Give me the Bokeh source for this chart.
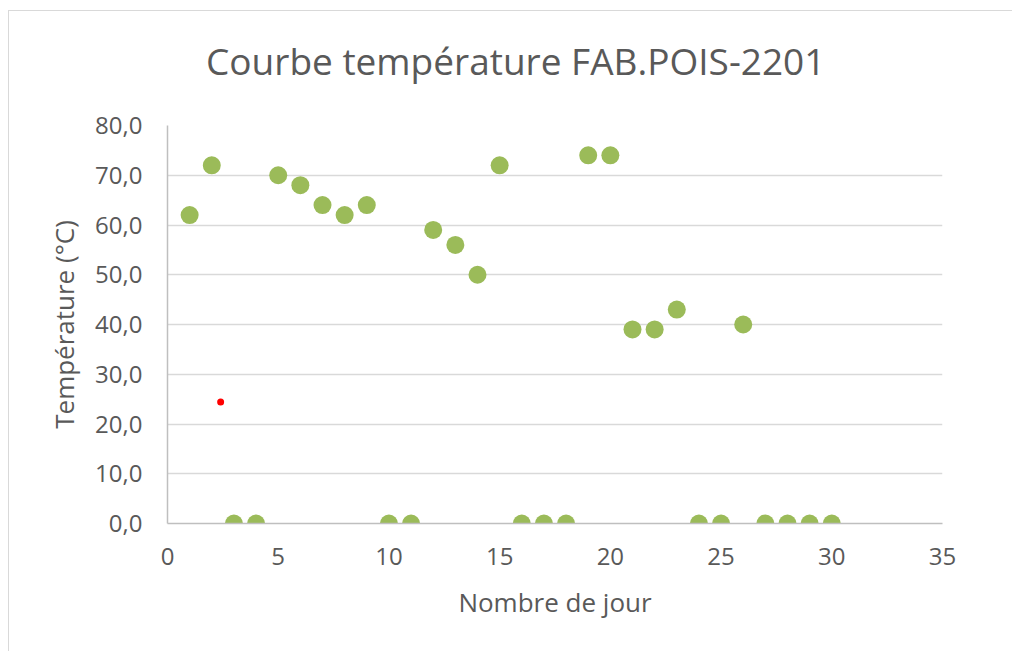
from bokeh.plotting import figure
from bokeh.models import Range1d, FixedTicker, ColumnDataSource, Div
from bokeh.layouts import column
from bokeh.embed import file_html
from bokeh.resources import INLINE

days = list(range(1, 31))
temps = [62, 72, 0, 0, 70, 68, 64, 62, 64, 0,
         0, 59, 56, 50, 72, 0, 0, 0, 74, 74,
         39, 39, 43, 0, 0, 40, 0, 0, 0, 0]
red_x = [2.4]
red_y = [24.4]
x_ticks = [0, 5, 10, 15, 20, 25, 30, 35]
y_ticks = [0, 10, 20, 30, 40, 50, 60, 70, 80]
y_tick_labels = ["0,0", "10,0", "20,0", "30,0", "40,0", "50,0", "60,0", "70,0", "80,0"]
title_text = "Courbe température FAB.POIS-2201"
x_label = "Nombre de jour"
y_label = "Température (°C)"

FONT = "Open Sans"
TXT = "#595959"
W = 1003
TITLE_H = 84
H = 556

title_div = Div(text=title_text, width=W, height=TITLE_H,
                styles={"font-family": FONT, "font-size": "37px", "color": TXT,
                        "padding-left": "197px", "padding-top": "24px",
                        "line-height": "normal", "white-space": "nowrap",
                        "overflow": "visible",
                        "margin": "0", "box-sizing": "border-box"})

p = figure(width=W, height=H, output_backend="svg", toolbar_location=None,
           x_range=Range1d(0, 35), y_range=Range1d(0, 80),
           min_border_left=158, min_border_right=70,
           min_border_top=30, min_border_bottom=128)
p.outline_line_color = None
p.background_fill_color = "white"
p.border_fill_color = "white"

p.xaxis.ticker = FixedTicker(ticks=x_ticks)
p.yaxis.ticker = FixedTicker(ticks=y_ticks)
p.yaxis.major_label_overrides = {t: l for t, l in zip(y_ticks, y_tick_labels)}
for ax in (p.xaxis, p.yaxis):
    ax.major_tick_line_color = None
    ax.minor_tick_line_color = None
    ax.major_label_text_font = FONT
    ax.major_label_text_font_size = "24px"
    ax.major_label_text_color = TXT
    ax.axis_label_text_font = FONT
    ax.axis_label_text_font_size = "26px"
    ax.axis_label_text_color = TXT
    ax.axis_label_text_font_style = "normal"
    ax.axis_line_color = "#bfbfbf"
    ax.axis_line_width = 1.5
p.xaxis.axis_label = x_label
p.yaxis.axis_label = y_label
p.xaxis.major_label_standoff = 18
p.yaxis.major_label_standoff = 19
p.xaxis.axis_label_standoff = 16
p.yaxis.axis_label_standoff = 10
p.xgrid.grid_line_color = None
p.ygrid.grid_line_color = "#d9d9d9"
p.ygrid.grid_line_width = 1.5

src = ColumnDataSource(dict(x=days, y=temps))
p.scatter("x", "y", source=src, size=18, fill_color="#9bbb59", line_color=None)
p.scatter(red_x, red_y, size=7, fill_color="#ff0000", line_color=None)

layout = column(title_div, p, spacing=0,
                styles={"border-left": "1px solid #d9d9d9", "border-top": "1px solid #d9d9d9",
                        "margin-left": "8px", "margin-top": "10px",
                        "background-color": "white"})

open("out.html", "w").write(file_html(layout, INLINE))
